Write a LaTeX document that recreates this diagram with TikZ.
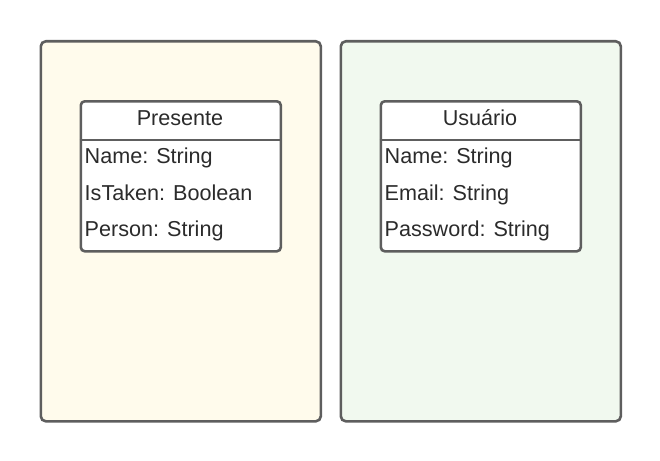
\documentclass[tikz,border=0pt]{standalone}
\usepackage{fontspec}
\setmainfont{Liberation Sans}
\definecolor{edge}{HTML}{5E5E5E}
\definecolor{fillA}{HTML}{FFFBEC}
\definecolor{fillB}{HTML}{F1F9EF}
\definecolor{txt}{HTML}{2B2B2B}
\begin{document}
\begin{tikzpicture}[x=1pt,y=-1pt,
  container/.style={draw=edge,line width=2.6pt,rounded corners=5pt,minimum width=280pt,minimum height=380pt,inner sep=0pt,anchor=north west},
  classbox/.style={draw=edge,fill=white,line width=2.6pt,rounded corners=4pt,minimum width=200pt,minimum height=150pt,inner sep=0pt,anchor=north west},
  title/.style={font=\fontsize{21.6}{21.6}\selectfont,text=txt,anchor=base,inner sep=0pt},
  attr/.style={font=\fontsize{21.6}{21.6}\selectfont,text=txt,anchor=base west,inner sep=0pt}]
\useasboundingbox (0,0) rectangle (660,460);
\node[container,fill=fillA] (contA) at (39.5,40) {};
\node[container,fill=fillB] (contB) at (339.5,40) {};
\node[classbox] (boxA) at (79.5,100) {};
\node[classbox] (boxB) at (379.5,100) {};
\draw[edge,line width=2.6pt] (boxA.west |- 0,140) coordinate (lA) -- (boxA.east |- 0,140) coordinate (rA);
\draw[edge,line width=2.6pt] (boxB.west |- 0,140) coordinate (lB) -- (boxB.east |- 0,140) coordinate (rB);
\node[title] (tA) at (180,125) {Presente};
\node[attr] (a1) at (84.5,163.3) {Name: String};
\node[attr] (a2) at (84.5,200) {IsTaken: Boolean};
\node[attr] (a3) at (84.5,236.7) {Person: String};
\node[title] (tB) at (480,125) {Usuário};
\node[attr] (b1) at (384.5,163.3) {Name: String};
\node[attr] (b2) at (384.5,200) {Email: String};
\node[attr] (b3) at (384.5,236.7) {Password: String};
\end{tikzpicture}
\end{document}
